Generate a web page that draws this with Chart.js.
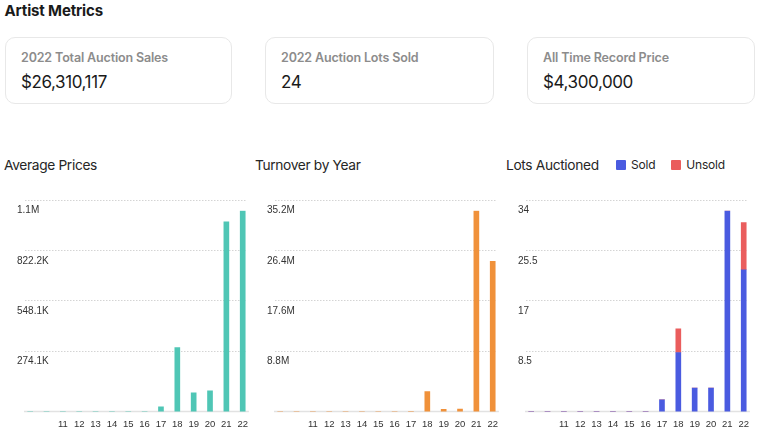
<!DOCTYPE html>
<html>
<head>
<meta charset="utf-8">
<script src="https://cdn.jsdelivr.net/npm/chart.js@4.4.0/dist/chart.umd.min.js"></script>
<style>
  body { margin: 0; background: #fff; font-family: Inter, "Noto Sans", sans-serif; color: #1a1a1a; }
  #page { position: relative; width: 760px; height: 437px; overflow: hidden; }
  .abs { position: absolute; white-space: nowrap; }
  h1 { position: absolute; left: 4.5px; top: 1.5px; margin: 0; font-size: 15px; line-height: 18px; font-weight: 700; letter-spacing: -0.15px; }
  .card { position: absolute; top: 37px; height: 67px; border: 1px solid #e8e8e8; border-radius: 10px; box-sizing: border-box; }
  .card .label { left: 15px; top: 12.2px; font-size: 12.5px; line-height: 15px; font-weight: 600; color: #8c8c8c; letter-spacing: -0.15px; }
  .card .value { left: 15px; top: 34px; font-size: 17px; line-height: 20px; font-weight: 400; color: #1a1a1a; letter-spacing: -0.4px; }
  .ctitle { top: 156.8px; font-size: 13.75px; line-height: 17px; color: #262626; letter-spacing: -0.35px; }
  .legend { position: absolute; top: 157px; font-size: 12px; line-height: 16px; color: #262626; display: flex; align-items: center; letter-spacing: -0.2px; }
  .legend span.box { display: inline-block; width: 10px; height: 10px; border-radius: 1px; margin-right: 5px; }
  .legend span.item { display: inline-flex; align-items: center; margin-right: 16px; }
  .wrap { position: absolute; top: 195px; width: 255px; height: 242px; }
</style>
</head>
<body>
<div id="page">
  <h1>Artist Metrics</h1>

  <div class="card" style="left:5px; width:227px;">
    <div class="label abs">2022 Total Auction Sales</div>
    <div class="value abs">$26,310,117</div>
  </div>
  <div class="card" style="left:265px; width:229px;">
    <div class="label abs">2022 Auction Lots Sold</div>
    <div class="value abs">24</div>
  </div>
  <div class="card" style="left:527px; width:228px;">
    <div class="label abs">All Time Record Price</div>
    <div class="value abs">$4,300,000</div>
  </div>

  <div class="ctitle abs" style="left:4px;">Average Prices</div>
  <div class="ctitle abs" style="left:255px;">Turnover by Year</div>
  <div class="ctitle abs" style="left:506px;">Lots Auctioned</div>
  <div class="legend" style="left:616px;">
    <span class="item"><span class="box" style="background:#4a5be0"></span>Sold</span>
    <span class="item"><span class="box" style="background:#ea5d5d"></span>Unsold</span>
  </div>

  <div class="wrap" style="left:0px;"><canvas id="avgChart"></canvas></div>
  <div class="wrap" style="left:250px;"><canvas id="turnoverChart"></canvas></div>
  <div class="wrap" style="left:501px;"><canvas id="lotsChart"></canvas></div>
</div>

<script>
// years (first two slots have no label)
const categories = ['', '', '11', '12', '13', '14', '15', '16', '17', '18', '19', '20', '21', '22'];

const avgPrice   = [0, 0, 0, 0, 0, 0, 0, 0, 26000, 350000, 102500, 113500, 1035300, 1096255];
const turnover   = [0, 0, 0, 0, 0, 0, 0, 0, 52000, 3500000, 410000, 454000, 35200000, 26310117];
const lotsSold   = [0, 0, 0, 0, 0, 0, 0, 0, 2, 10, 4, 4, 34, 24];
const lotsUnsold = [0, 0, 0, 0, 0, 0, 0, 0, 0, 4, 0, 0, 0, 8];

const avgTicks = [274064, 548128, 822191, 1096255];
const avgTickLabels = ['274.1K', '548.1K', '822.2K', '1.1M'];
const turnoverTicks = [8800000, 17600000, 26400000, 35200000];
const turnoverTickLabels = ['8.8M', '17.6M', '26.4M', '35.2M'];
const lotsTicks = [8.5, 17, 25.5, 34];
const lotsTickLabels = ['8.5', '17', '25.5', '34'];

const xFont = { family: '"Liberation Sans", Arial, sans-serif', size: 9.5 };
const yFont = { family: '"Liberation Sans", Arial, sans-serif', size: 10 };

// dotted grid lines sit a bit above each tick label, plus a solid baseline
const gridPlugin = {
  id: 'dottedGrid',
  beforeDatasetsDraw(chart) {
    const ctx = chart.ctx;
    const area = chart.chartArea;
    const y = chart.scales.y;
    ctx.save();
    ctx.strokeStyle = '#d4d4d4';
    ctx.lineWidth = 1;
    ctx.setLineDash([1.5, 1.5]);
    y.ticks.forEach(function (t) {
      const py = Math.round(y.getPixelForValue(t.value) - 10.7) + 0.5;
      ctx.beginPath();
      ctx.moveTo(area.left + 3, py);
      ctx.lineTo(area.right - 5, py);
      ctx.stroke();
    });
    ctx.setLineDash([]);
    ctx.strokeStyle = '#e2e2e2';
    ctx.lineWidth = 1.5;
    const base = y.getPixelForValue(0);
    ctx.beginPath();
    ctx.moveTo(area.left + 2, base);
    ctx.lineTo(area.right - 2, base);
    ctx.stroke();
    ctx.restore();
  }
};

function makeOptions(maxValue, tickValues, tickLabels, stacked) {
  return {
    responsive: true,
    maintainAspectRatio: false,
    animation: false,
    layout: { padding: { top: 15.7, bottom: 0, left: 22, right: 0 } },
    plugins: { legend: { display: false }, tooltip: { enabled: false } },
    scales: {
      x: {
        stacked: stacked,
        offset: true,
        grid: { display: false, drawTicks: false },
        border: { display: false },
        ticks: { color: '#333', font: xFont, padding: 7, autoSkip: false, maxRotation: 0 }
      },
      y: {
        stacked: stacked,
        min: 0,
        max: maxValue,
        grid: { display: false, drawTicks: false },
        border: { display: false },
        afterBuildTicks: function (scale) {
          scale.ticks = tickValues.map(function (v) { return { value: v }; });
        },
        // labels hang into the plot, left aligned
        afterFit: function (scale) { scale.width = 0; },
        ticks: {
          mirror: true,
          padding: -5,
          color: '#333',
          font: yFont,
          callback: function (value, index) { return tickLabels[index]; }
        }
      }
    }
  };
}

new Chart(document.getElementById('avgChart'), {
  type: 'bar',
  data: {
    labels: categories,
    datasets: [{ label: 'Average Price', data: avgPrice, backgroundColor: '#4fc6b5', barThickness: 5 }]
  },
  options: makeOptions(1096255, avgTicks, avgTickLabels, false),
  plugins: [gridPlugin]
});

new Chart(document.getElementById('turnoverChart'), {
  type: 'bar',
  data: {
    labels: categories,
    datasets: [{ label: 'Turnover', data: turnover, backgroundColor: '#f0913a', barThickness: 5 }]
  },
  options: makeOptions(35200000, turnoverTicks, turnoverTickLabels, false),
  plugins: [gridPlugin]
});

new Chart(document.getElementById('lotsChart'), {
  type: 'bar',
  data: {
    labels: categories,
    datasets: [
      { label: 'Sold', data: lotsSold, backgroundColor: '#4a5be0', barThickness: 5 },
      { label: 'Unsold', data: lotsUnsold, backgroundColor: '#ea5d5d', barThickness: 5 }
    ]
  },
  options: makeOptions(34, lotsTicks, lotsTickLabels, true),
  plugins: [gridPlugin]
});
</script>
</body>
</html>
